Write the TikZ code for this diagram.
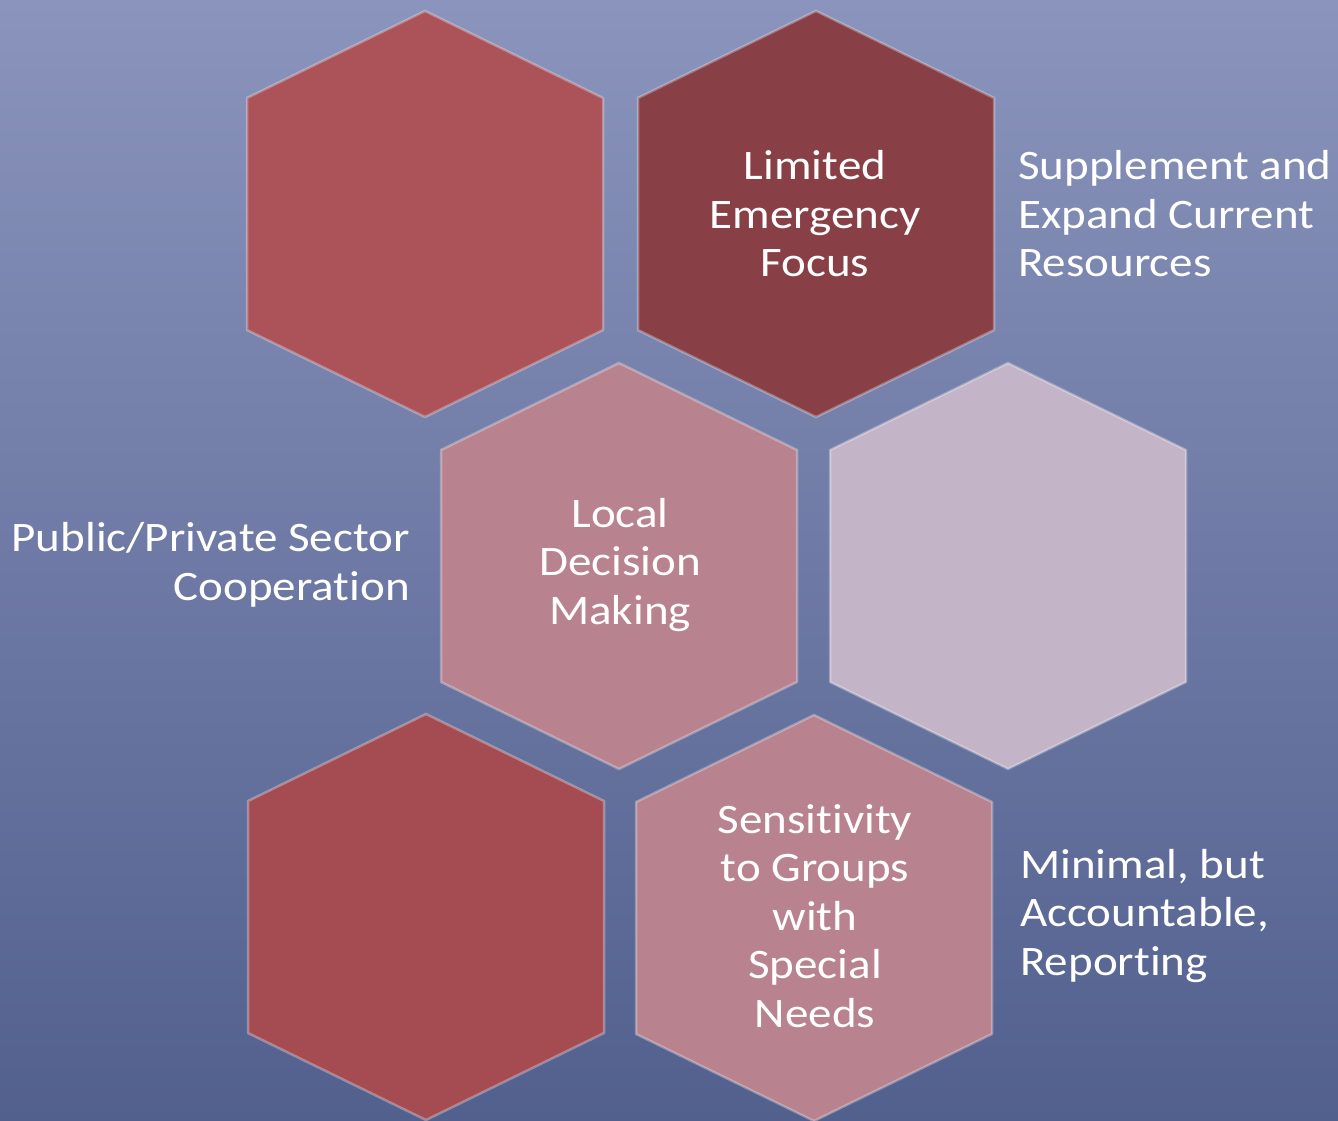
\documentclass[tikz,border=0pt]{standalone}
\usepackage{fontspec}
\setmainfont{Carlito}[Ligatures=NoCommon, FakeStretch=1.12]
\usetikzlibrary{calc}

\definecolor{bgtop}{HTML}{8A94BC}
\definecolor{bgbottom}{HTML}{52608E}
\definecolor{hexred}{HTML}{AB5358}
\definecolor{hexdark}{HTML}{883F45}
\definecolor{hexrose}{HTML}{B8828E}
\definecolor{hexlilac}{HTML}{C4B4C8}
\definecolor{hexlow}{HTML}{A44C52}

\newcommand{\hexcell}[3]{%
  \path[hexcell, fill=#3] (#1,#2) ++(0,-203) -- ++(178,87) -- ++(0,232)
    -- ++(-178,87) -- ++(-178,-87) -- ++(0,-232) -- cycle;}

\begin{document}
\begin{tikzpicture}[x=1pt, y=-1pt,
    hexcell/.style={draw=white, draw opacity=0.3, line width=2.5pt, line join=round},
    celltext/.style={text=white, align=center, inner sep=0pt, font=\fontsize{42}{48.5}\selectfont},
    sidetext/.style={text=white, inner sep=0pt, font=\fontsize{42}{48.5}\selectfont}]
    \useasboundingbox (0,0) rectangle (1338,1121);
    \shade[top color=bgtop, bottom color=bgbottom] (0,0) rectangle (1338,1121);

    \hexcell{425}{214}{hexred}
    \hexcell{816}{214}{hexdark}
    \hexcell{619}{566}{hexrose}
    \hexcell{1008}{566}{hexlilac}
    \hexcell{426}{917}{hexlow}
    \hexcell{814}{918}{hexrose}

    \node[celltext] (limited) at (815,214) {Limited\\Emergency\\Focus};
    \node[sidetext, anchor=west, align=left] (supplement) at (1018,214) {Supplement and\\Expand Current\\Resources};
    \node[celltext] (local) at (620,565) {Local\\Decision\\Making};
    \node[sidetext, anchor=east, align=right] (public) at (410,565) {Public/Private Sector\\Cooperation};
    \node[celltext] (sensitivity) at (815,916) {Sensitivity\\to Groups\\with\\Special\\Needs};
    \node[sidetext, anchor=west, align=left] (minimal) at (1020,916) {Minimal, but\\Accountable,\\Reporting};
\end{tikzpicture}
\end{document}
